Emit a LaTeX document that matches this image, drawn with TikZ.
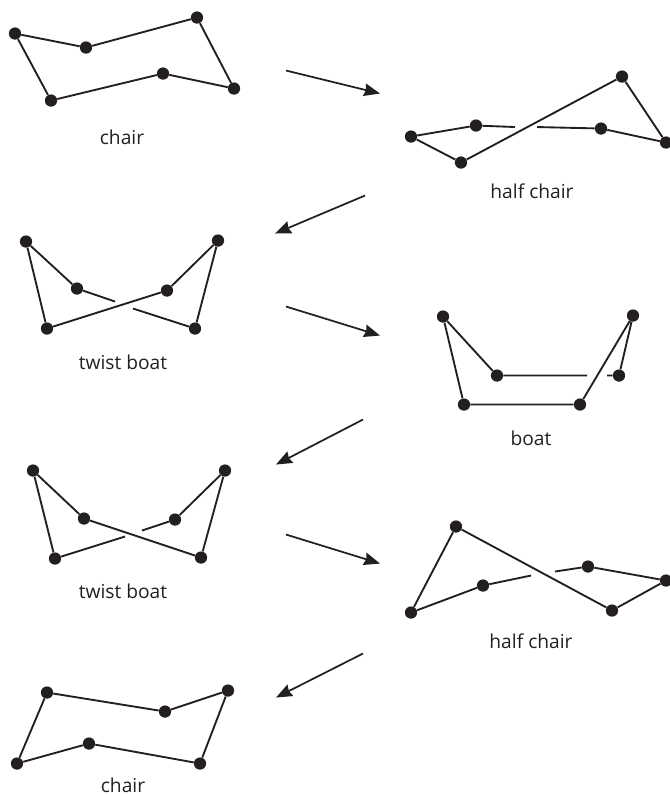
\documentclass[tikz,border=0pt]{standalone}
\usepackage{fontspec}
\setmainfont{Open Sans}
\usetikzlibrary{arrows.meta}
\definecolor{ink}{HTML}{231F20}
\tikzset{
 atom/.style={circle,fill=ink,inner sep=0pt,minimum size=9.2pt},
 bond/.style={line width=1.4pt,draw=ink},
 flow/.style={line width=1.3pt,draw=ink,-{Stealth[length=12pt,width=9.5pt,inset=1.2pt]}},
 lab/.style={font=\fontsize{14.4}{17}\selectfont,text=ink,inner sep=0pt,anchor=base,text depth=0pt}}
\newcommand{\A}[3]{\node[atom] (#1) at (#2,#3) {};}
\begin{document}
\begin{tikzpicture}[x=0.75pt,y=-0.75pt]
\useasboundingbox (0,0) rectangle (669,795);
\begin{scope}[yshift=-0.4pt]
% chair 1
\A{a1}{15}{33}\A{a2}{86}{47}\A{a3}{197}{17}\A{a4}{234}{88}\A{a5}{163}{73}\A{a6}{51}{100}
\draw[bond] (a1)--(a2)--(a3)--(a4)--(a5)--(a6)--(a1);
\node[lab] (t1) at (122,144) {chair};
% half chair 1
\A{b1}{411}{136}\A{b2}{476}{125}\A{b3}{622}{76}\A{b4}{666}{142}\A{b5}{601}{128}\A{b6}{461}{162}
\coordinate (b7) at (515,126.5);\coordinate (b8) at (537,126.5);
\draw[bond] (b7)--(b2)--(b1)--(b6)--(b3)--(b4)--(b5)--(b8);
\node[lab] (t2) at (532,198) {half chair};
% twist boat 1
\A{c1}{26}{241}\A{c2}{77}{288}\A{c3}{218}{240}\A{c4}{195}{328}\A{c5}{167}{290}\A{c6}{47}{328}
\coordinate (c7) at (115,301);\coordinate (c8) at (133,308);
\draw[bond] (c7)--(c2)--(c1)--(c6)--(c5)--(c3)--(c4)--(c8);
\node[lab] (t3) at (123,369) {twist boat};
% boat
\A{d1}{443}{316}\A{d2}{497}{375}\A{d3}{633}{315}\A{d4}{619}{375}\A{d5}{580}{404}\A{d6}{464}{404}
\coordinate (d7) at (587,375);\coordinate (d8) at (607,375);
\draw[bond] (d7)--(d2)--(d1)--(d6)--(d5)--(d3)--(d4)--(d8);
\node[lab] (t4) at (531,445) {boat};
% twist boat 2
\A{e1}{33}{470}\A{e2}{84}{518}\A{e3}{225}{470}\A{e4}{175}{519}\A{e5}{201}{557}\A{e6}{55}{558}
\coordinate (e7) at (142,530);\coordinate (e8) at (125,536);
\draw[bond] (e7)--(e4)--(e3)--(e5)--(e2)--(e1)--(e6)--(e8);
\node[lab] (t5) at (123,598) {twist boat};
% half chair 2
\A{f1}{411}{612}\A{f2}{483}{585}\A{f3}{456}{526}\A{f4}{612}{610}\A{f5}{666}{580}\A{f6}{588}{566}
\coordinate (f7) at (531,575);\coordinate (f8) at (555,571);
\draw[bond] (f7)--(f2)--(f1)--(f3)--(f4)--(f5)--(f6)--(f8);
\node[lab] (t6) at (531,648) {half chair};
% chair 2
\A{g1}{47}{692}\A{g2}{165}{711}\A{g3}{228}{690}\A{g4}{200}{763}\A{g5}{89}{743}\A{g6}{17}{763}
\draw[bond] (g1)--(g2)--(g3)--(g4)--(g5)--(g6)--(g1);
\node[lab] (t7) at (123,792) {chair};
% arrows
\coordinate (p1) at (286,70);\coordinate (q1) at (380,93);
\coordinate (p2) at (365,195);\coordinate (q2) at (275,233);
\coordinate (p3) at (286,306);\coordinate (q3) at (380,335);
\coordinate (p4) at (363,419);\coordinate (q4) at (276,464);
\coordinate (p5) at (286,534);\coordinate (q5) at (380,563);
\coordinate (p6) at (363,653);\coordinate (q6) at (276,697);
\foreach \i in {1,...,6}{\draw[flow] (p\i)--(q\i);}
\end{scope}
\end{tikzpicture}
\end{document}
